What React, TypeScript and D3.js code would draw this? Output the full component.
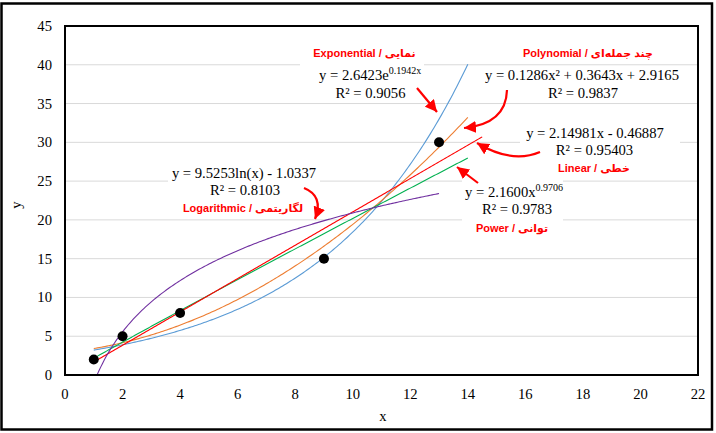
import React from "react";
import * as d3 from "d3";

const xData = [1, 2, 4, 9, 13];
const yData = [2, 5, 8, 15, 30];
const xTicks = [0, 2, 4, 6, 8, 10, 12, 14, 16, 18, 20, 22];
const yTicks = [0, 5, 10, 15, 20, 25, 30, 35, 40, 45];

const expCoef = [2.6423, 0.1942];
const polyCoef = [0.1286, 0.3643, 2.9165];
const linCoef = [2.14981, -0.46887];
const powCoef = [2.16, 0.9706];
const logCoef = [9.5253, -1.0337];

const W = 716, H = 433;
const PL = 65, PR = 698, PT = 26, PB = 375;

const x = d3.scaleLinear().domain([0, 22]).range([PL, PR]);
const y = d3.scaleLinear().domain([0, 45]).range([PB, PT]);

type Trend = { name: string; color: string; from: number; to: number; f: (v: number) => number };
const trends: Trend[] = [
  { name: "exp", color: "#5B9BD5", from: 1, to: 14, f: (v) => expCoef[0] * Math.exp(expCoef[1] * v) },
  { name: "poly", color: "#ED7D31", from: 1, to: 14, f: (v) => polyCoef[0] * v * v + polyCoef[1] * v + polyCoef[2] },
  { name: "pow", color: "#00B050", from: 1, to: 14, f: (v) => powCoef[0] * Math.pow(v, powCoef[1]) },
  { name: "lin", color: "#FF0000", from: 1, to: 14.5, f: (v) => linCoef[0] * v + linCoef[1] },
  { name: "log", color: "#7030A0", from: 1, to: 13, f: (v) => logCoef[0] * Math.log(v) + logCoef[1] },
];

const line = d3.line<[number, number]>().x((d) => x(d[0])).y((d) => y(d[1]));

function trendPath(t: Trend) {
  const n = 200;
  const pts: [number, number][] = d3.range(n + 1).map((i) => {
    const v = t.from + ((t.to - t.from) * i) / n;
    return [v, t.f(v)];
  });
  return line(pts) || "";
}

const serif = "'Liberation Serif', 'Times New Roman', serif";
const sans = "'Liberation Sans', 'DejaVu Sans', Arial, sans-serif";
const RED = "#FF0000";

export default function App() {
  const eqStyle = { fontFamily: serif, fontSize: 14.67, fill: "#000" } as const;
  const lblStyle = { fontFamily: sans, fontSize: 11, fontWeight: 700, fill: RED } as const;
  return (
    <svg width={W} height={H} style={{ position: "absolute", left: 0, top: 0, background: "#fff" }}>
      <defs>
        <clipPath id="plotClip">
          <rect x={PL} y={PT} width={PR - PL} height={PB - PT} />
        </clipPath>
        <marker id="ah" markerUnits="userSpaceOnUse" markerWidth={12} markerHeight={12} refX={10} refY={5} orient="auto" viewBox="0 0 10 10">
          <path d="M0,0 L10,5 L0,10 z" fill={RED} />
        </marker>
      </defs>
      <rect x={0} y={0} width={W} height={H} fill="#fff" />
      <rect x={1.5} y={3.5} width={710.5} height={426} fill="none" stroke="#000" strokeWidth={2.5} />

      {/* gridlines */}
      {yTicks.slice(1).map((t) => (
        <line key={"g" + t} x1={PL} x2={PR} y1={y(t)} y2={y(t)} stroke="#D9D9D9" strokeWidth={1} />
      ))}

      {/* trendlines */}
      <g clipPath="url(#plotClip)">
        {trends.map((t) => (
          <path key={t.name} d={trendPath(t)} fill="none" stroke={t.color} strokeWidth={1.1} />
        ))}
      </g>

      {/* data points */}
      {xData.map((xv, i) => (
        <circle key={"p" + i} cx={x(xv)} cy={y(yData[i])} r={5} fill="#000" />
      ))}

      {/* plot area border */}
      <rect x={PL} y={PT} width={PR - PL} height={PB - PT} fill="none" stroke="#000" strokeWidth={2} />

      {/* tick labels */}
      {xTicks.map((t) => (
        <text key={"xt" + t} x={x(t)} y={399} textAnchor="middle" style={eqStyle}>{t}</text>
      ))}
      {yTicks.map((t) => (
        <text key={"yt" + t} x={52} y={y(t) + 5} textAnchor="end" style={eqStyle}>{t}</text>
      ))}

      {/* axis titles */}
      <text x={383} y={421} textAnchor="middle" style={eqStyle}>x</text>
      <text transform="translate(21,205) rotate(-90)" textAnchor="middle" style={eqStyle}>y</text>

      {/* annotation boxes */}
      <rect x={300} y={63} width={124} height={39} fill="#fff" />
      <rect x={483} y={67} width={198} height={35} fill="#fff" />
      <rect x={168} y={162} width={152} height={37} fill="#fff" />
      <rect x={520} y={122} width={160} height={38} fill="#fff" />
      <rect x={462} y={180} width={101} height={41} fill="#fff" />

      {/* Exponential */}
      <text x={364.5} y={57} textAnchor="middle" style={lblStyle} direction="ltr">Exponential / نمایی</text>
      <text x={319} y={80} style={eqStyle}>y = 2.6423e<tspan fontSize={10} dy={-6}>0.1942x</tspan></text>
      <text x={370.5} y={97.5} textAnchor="middle" style={eqStyle}>R² = 0.9056</text>

      {/* Polynomial */}
      <text x={588} y={57} textAnchor="middle" style={lblStyle} direction="ltr">Polynomial / چند جمله‌ای</text>
      <text x={582} y={80} textAnchor="middle" style={eqStyle}>y = 0.1286x² + 0.3643x + 2.9165</text>
      <text x={583} y={97.5} textAnchor="middle" style={eqStyle}>R² = 0.9837</text>

      {/* Logarithmic */}
      <text x={244} y={178} textAnchor="middle" style={eqStyle}>y = 9.5253ln(x) - 1.0337</text>
      <text x={245} y={195} textAnchor="middle" style={eqStyle}>R² = 0.8103</text>
      <text x={243} y={212} textAnchor="middle" style={lblStyle} direction="ltr">Logarithmic / لگاریتمی</text>

      {/* Linear */}
      <text x={595} y={138} textAnchor="middle" style={eqStyle}>y = 2.14981x - 0.46887</text>
      <text x={594.5} y={155} textAnchor="middle" style={eqStyle}>R² = 0.95403</text>
      <text x={594} y={172} textAnchor="middle" style={lblStyle} direction="ltr">Linear / خطی</text>

      {/* Power */}
      <text x={465} y={197} style={eqStyle}>y = 2.1600x<tspan fontSize={10} dy={-6}>0.9706</tspan></text>
      <text x={517} y={214} textAnchor="middle" style={eqStyle}>R² = 0.9783</text>
      <text x={512} y={232} textAnchor="middle" style={lblStyle} direction="ltr">Power / توانی</text>

      {/* arrows */}
      <g fill="none" stroke={RED} strokeWidth={2.2} markerEnd="url(#ah)">
        <path d="M417,88 L437,112" />
        <path d="M507,90 Q506,124 464,128" />
        <path d="M540,152 Q512,164 477,143" />
        <path d="M478,183 L457,167" />
        <path d="M304,188 Q324,196 315,219" />
      </g>
    </svg>
  );
}
